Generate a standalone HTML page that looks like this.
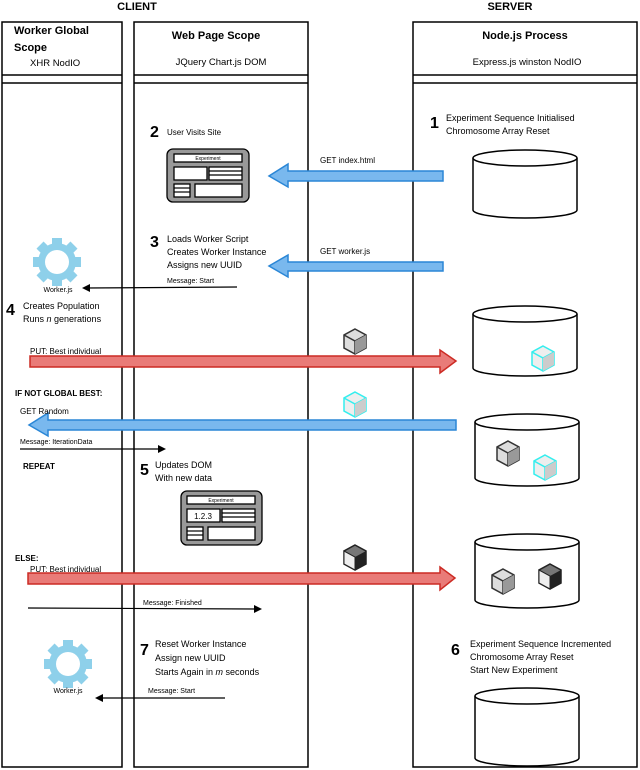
<!DOCTYPE html>
<html><head><style>body{margin:0;background:#fff}svg{display:block}text{font-family:"Liberation Sans",sans-serif;fill:#000}</style></head>
<body>
<svg width="640" height="770" viewBox="0 0 640 770" xmlns="http://www.w3.org/2000/svg">
<defs>
<g id="cube"><polygon points="0,-11 11,-5 11,8 0,14 -11,8 -11,-5" fill="#ddd" stroke="#333" stroke-width="1.5"/><polyline points="-11,-5 0,1 11,-5" fill="none" stroke="#333" stroke-width="1.5"/><line x1="0" y1="1" x2="0" y2="14" stroke="#333" stroke-width="1.5"/><polygon points="0,1 11,-5 11,8 0,14" fill="#999"/></g>
<g id="ccube"><polygon points="0,-11 11,-5 11,8 0,14 -11,8 -11,-5" fill="#eee" stroke="#3ee" stroke-width="1.5"/><polyline points="-11,-5 0,1 11,-5" fill="none" stroke="#3ee" stroke-width="1.5"/><line x1="0" y1="1" x2="0" y2="14" stroke="#3ee" stroke-width="1.5"/><polygon points="0,1 11,-5 11,8 0,14" fill="#ccc"/></g>
<g id="bcube"><polygon points="0,-11 11,-5 11,8 0,14 -11,8 -11,-5" fill="#777" stroke="#222" stroke-width="1.5"/><polygon points="-11,-5 0,1 0,14 -11,8" fill="#eee" stroke="#222"/><polygon points="0,1 11,-5 11,8 0,14" fill="#222"/></g>
<g id="gear" fill="#8ed0ea"><circle r="19"/><rect x="-5" y="-24" width="10" height="48"/><rect x="-24" y="-5" width="48" height="10"/><rect x="-5" y="-24" width="10" height="48" transform="rotate(45)"/><rect x="-5" y="-24" width="10" height="48" transform="rotate(-45)"/><circle r="12" fill="#fff"/></g>
</defs>
<text x="137" y="10" font-size="11" font-weight="bold" text-anchor="middle">CLIENT</text>
<text x="510" y="10" font-size="11" font-weight="bold" text-anchor="middle">SERVER</text>
<g fill="none" stroke="#000" stroke-width="1.5">
<rect x="2" y="22" width="120" height="745"/><line x1="2" y1="75" x2="122" y2="75"/><line x1="2" y1="83" x2="122" y2="83"/>
<rect x="134" y="22" width="174" height="745"/><line x1="134" y1="75" x2="308" y2="75"/><line x1="134" y1="83" x2="308" y2="83"/>
<rect x="413" y="22" width="224" height="745"/><line x1="413" y1="75" x2="637" y2="75"/><line x1="413" y1="83" x2="637" y2="83"/>
</g>
<text x="14" y="34" font-size="11" font-weight="bold">Worker Global</text>
<text x="14" y="51" font-size="11" font-weight="bold">Scope</text>
<text x="30" y="66" font-size="9.5">XHR  NodIO</text>
<text x="216" y="39" font-size="11" font-weight="bold" text-anchor="middle">Web Page Scope</text>
<text x="221" y="65" font-size="9.5" text-anchor="middle">JQuery  Chart.js  DOM</text>
<text x="525" y="39" font-size="11" font-weight="bold" text-anchor="middle">Node.js Process</text>
<text x="527" y="65" font-size="9.5" text-anchor="middle">Express.js   winston   NodIO</text>
<g fill="#fff" stroke="#000" stroke-width="1.5">
<path d="M473,158 V210 A52,8 0 0 0 577,210 V158"/><ellipse cx="525" cy="158" rx="52" ry="8"/>
<path d="M473,314 V368 A52,8 0 0 0 577,368 V314"/><ellipse cx="525" cy="314" rx="52" ry="8"/>
<path d="M475,422 V478 A52,8 0 0 0 579,478 V422"/><ellipse cx="527" cy="422" rx="52" ry="8"/>
<path d="M475,542 V600 A52,8 0 0 0 579,600 V542"/><ellipse cx="527" cy="542" rx="52" ry="8"/>
<path d="M475,696 V758 A52,8 0 0 0 579,758 V696"/><ellipse cx="527" cy="696" rx="52" ry="8"/>
</g>
<text x="430" y="128" font-size="16" font-weight="bold" font-family="Liberation Serif">1</text>
<text x="446" y="121" font-size="9">Experiment Sequence Initialised</text>
<text x="446" y="134" font-size="9">Chromosome Array Reset</text>
<text x="150" y="137" font-size="16" font-weight="bold" font-family="Liberation Serif">2</text>
<text x="167" y="135" font-size="8">User Visits Site</text>
<g stroke="#000" stroke-width="1.3"><rect x="167" y="149" width="82" height="53" rx="6" fill="#999"/>
<rect x="174" y="154" width="68" height="8" fill="#fff"/><rect x="174" y="167" width="33" height="13" fill="#fff"/><rect x="209" y="167" width="33" height="13" fill="#fff"/><rect x="174" y="184" width="16" height="13" fill="#fff"/><rect x="195" y="184" width="47" height="13" fill="#fff"/></g>
<g stroke="#000" stroke-width="1.2"><line x1="209" y1="171" x2="242" y2="171"/><line x1="209" y1="175" x2="242" y2="175"/><line x1="174" y1="188" x2="190" y2="188"/><line x1="174" y1="192" x2="190" y2="192"/></g>
<text x="208" y="160" font-size="5" text-anchor="middle">Experiment</text>
<g fill="#79b8ee" stroke="#2a86d6" stroke-width="1.5">
<polygon points="443,171 288,171 288,164 269,176 288,187 288,181 443,181"/>
<polygon points="443,262 288,262 288,255 269,266 288,277 288,271 443,271"/>
<polygon points="456,420 48,420 48,413 29,425 48,436 48,430 456,430"/>
</g>
<text x="320" y="163" font-size="8">GET index.html</text>
<text x="320" y="254" font-size="8">GET worker.js</text>
<text x="150" y="247" font-size="16" font-weight="bold" font-family="Liberation Serif">3</text>
<text x="167" y="242" font-size="9">Loads Worker Script</text>
<text x="167" y="255" font-size="9">Creates Worker Instance</text>
<text x="167" y="268" font-size="9">Assigns new UUID</text>
<text x="167" y="283" font-size="7">Message: Start</text>
<line x1="237" y1="287" x2="86" y2="288" stroke="#000" stroke-width="1.2"/><polygon points="82,288 90,284 90,292"/>
<use href="#gear" x="57" y="262"/>
<text x="58" y="292" font-size="7" text-anchor="middle">Worker.js</text>
<text x="6" y="315" font-size="16" font-weight="bold" font-family="Liberation Serif">4</text>
<text x="23" y="309" font-size="9">Creates Population</text>
<text x="23" y="322" font-size="9">Runs <tspan font-style="italic">n</tspan> generations</text>
<use href="#cube" x="355" y="340"/>
<use href="#ccube" x="543" y="357"/>
<use href="#ccube" x="355" y="403"/>
<use href="#cube" x="508" y="452"/>
<use href="#ccube" x="545" y="466"/>
<use href="#bcube" x="355" y="556"/>
<use href="#cube" x="503" y="580"/>
<use href="#bcube" x="550" y="575"/>
<g fill="#e97b78" stroke="#cc2b24" stroke-width="1.5">
<polygon points="30,356 440,356 440,350 456,361 440,373 440,367 30,367"/>
<polygon points="28,573 440,573 440,567 455,578 440,590 440,584 28,584"/>
</g>
<text x="30" y="354" font-size="8">PUT: Best individual</text>
<text x="15" y="396" font-size="8" font-weight="bold">IF NOT GLOBAL BEST:</text>
<text x="20" y="414" font-size="8">GET Random</text>
<text x="20" y="444" font-size="7">Message: IterationData</text>
<line x1="20" y1="449" x2="160" y2="449" stroke="#000" stroke-width="1.2"/><polygon points="166,449 158,445 158,453"/>
<text x="23" y="469" font-size="8" font-weight="bold">REPEAT</text>
<text x="140" y="475" font-size="16" font-weight="bold" font-family="Liberation Serif">5</text>
<text x="155" y="468" font-size="9">Updates DOM</text>
<text x="155" y="481" font-size="9">With new data</text>
<g stroke="#000" stroke-width="1.3"><rect x="181" y="491" width="81" height="54" rx="6" fill="#999"/>
<rect x="187" y="496" width="68" height="8" fill="#fff"/><rect x="187" y="509" width="33" height="13" fill="#fff"/><rect x="222" y="509" width="33" height="13" fill="#fff"/><rect x="187" y="527" width="16" height="13" fill="#fff"/><rect x="208" y="527" width="47" height="13" fill="#fff"/></g>
<g stroke="#000" stroke-width="1.2"><line x1="222" y1="513" x2="255" y2="513"/><line x1="222" y1="517" x2="255" y2="517"/><line x1="187" y1="531" x2="203" y2="531"/><line x1="187" y1="535" x2="203" y2="535"/></g>
<text x="221" y="502" font-size="5" text-anchor="middle">Experiment</text>
<text x="203" y="519" font-size="8" text-anchor="middle">1.2.3</text>
<text x="15" y="561" font-size="8" font-weight="bold">ELSE:</text>
<text x="30" y="572" font-size="8">PUT: Best individual</text>
<text x="143" y="605" font-size="7">Message: Finished</text>
<line x1="28" y1="608" x2="256" y2="609" stroke="#000" stroke-width="1.2"/><polygon points="262,609 254,605 254,613"/>
<use href="#gear" x="68" y="664"/>
<text x="68" y="693" font-size="7" text-anchor="middle">Worker.js</text>
<text x="140" y="655" font-size="16" font-weight="bold" font-family="Liberation Serif">7</text>
<text x="155" y="647" font-size="9">Reset Worker Instance</text>
<text x="155" y="661" font-size="9">Assign new UUID</text>
<text x="155" y="675" font-size="9">Starts Again in <tspan font-style="italic">m</tspan> seconds</text>
<text x="148" y="693" font-size="7">Message: Start</text>
<line x1="225" y1="698" x2="100" y2="698" stroke="#000" stroke-width="1.2"/><polygon points="95,698 103,694 103,702"/>
<text x="451" y="655" font-size="16" font-weight="bold" font-family="Liberation Serif">6</text>
<text x="470" y="647" font-size="9">Experiment Sequence Incremented</text>
<text x="470" y="660" font-size="9">Chromosome Array Reset</text>
<text x="470" y="673" font-size="9">Start New Experiment</text>
</svg>
</body></html>
